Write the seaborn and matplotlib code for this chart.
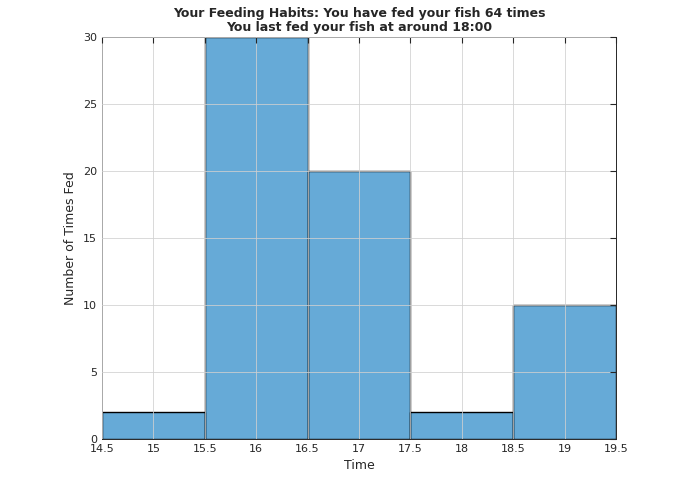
import matplotlib
matplotlib.use("Agg")
import matplotlib.pyplot as plt
import seaborn as sns
import numpy as np

hours = [15, 16, 17, 18, 19]
counts = [2, 30, 20, 2, 10]
bin_edges = [14.5, 15.5, 16.5, 17.5, 18.5, 19.5]
xticks = [14.5, 15, 15.5, 16, 16.5, 17, 17.5, 18, 18.5, 19, 19.5]
yticks = [0, 5, 10, 15, 20, 25, 30]

sns.set_style("white")
plt.rcParams['font.family'] = ['DejaVu Sans']
fig = plt.figure(figsize=(6.95, 4.94), dpi=100)
ax = fig.add_axes([102/695, 1-439/494, (616-102)/695, (439-37)/494])
sns.histplot(x=hours, weights=counts, bins=bin_edges, color="#0072bd", alpha=0.6,
             edgecolor="black", linewidth=1.0, ax=ax)
ax.set_xlim(14.5, 19.5)
ax.set_ylim(0, 30)
ax.set_xticks(xticks)
ax.set_xticklabels([f"{t:g}" for t in xticks])
ax.set_yticks(yticks)
ax.grid(True, color="#d0d0d0", linewidth=0.7, alpha=0.8)
ax.set_axisbelow(False)
ax.tick_params(direction="in", labelsize=8, length=4, top=True, right=True, colors="#262626")
for s in ax.spines.values():
    s.set_color("#262626"); s.set_linewidth(0.7)
ax.set_xlabel("Time", fontsize=9, color="#262626")
ax.set_ylabel("Number of Times Fed", fontsize=9, color="#262626")
ax.set_title("Your Feeding Habits: You have fed your fish 64 times\nYou last fed your fish at around 18:00",
             fontsize=9, fontweight="bold", linespacing=1.1, pad=4)
fig.savefig("out.png", dpi=100)
